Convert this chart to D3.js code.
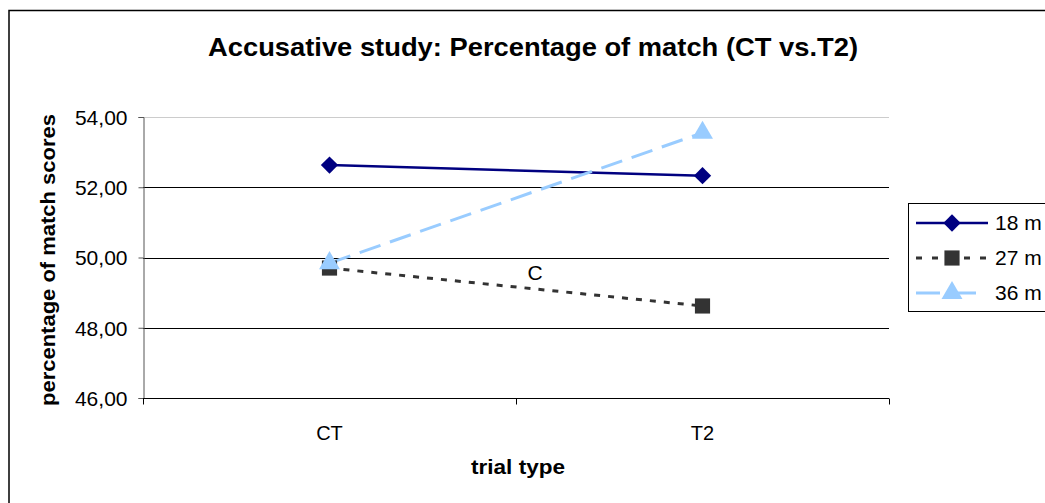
<!DOCTYPE html>
<html>
<head>
<meta charset="utf-8">
<script src="https://cdn.jsdelivr.net/npm/d3@7"></script>
<style>
  body { margin: 0; background: #fff; }
  svg { display: block; font-family: "Liberation Sans", Arial, sans-serif; }
</style>
</head>
<body>
<div class="canvas"></div>
<script>
// chart data
const categories = ["CT", "T2"];
const seriesNames = ["18 m", "27 m", "36 m"];
const values18 = [52.63, 52.33];
const values27 = [49.70, 48.62];
const values36 = [49.84, 53.55];
const yTicks = [46, 48, 50, 52, 54];

const width = 1045;
const height = 503;
// plot area
const margin = { top: 117, right: 156, bottom: 105, left: 143 };
const graphWidth = width - margin.left - margin.right;
const graphHeight = height - margin.top - margin.bottom;

const svg = d3
  .select(".canvas")
  .append("svg")
  .attr("width", width)
  .attr("height", height);

// outer chart frame (runs off the right and bottom edges)
svg.append("rect")
  .attr("x", 9).attr("y", 10.5)
  .attr("width", 1100).attr("height", 600)
  .attr("fill", "none")
  .attr("stroke", "#000")
  .attr("stroke-width", 1.5);

const graph = svg
  .append("g")
  .attr("transform", `translate(${margin.left}, ${margin.top})`);

// scales
const x = d3.scaleBand().domain(categories).range([0, graphWidth]);
const y = d3.scaleLinear().domain([46, 54]).range([graphHeight, 0]);

// gridlines
graph.selectAll(".grid")
  .data(yTicks.filter(d => d !== 46))
  .enter()
  .append("line")
  .attr("x1", 0)
  .attr("x2", graphWidth)
  .attr("y1", d => Math.round(y(d)) + 0.5)
  .attr("y2", d => Math.round(y(d)) + 0.5)
  .attr("stroke", d => (d === 54 ? "#ccc" : "#000"))
  .attr("stroke-width", 1);

// axes
const fmt = d => d3.format(".2f")(d).replace(".", ",");
const yAxis = d3.axisLeft(y).tickValues(yTicks).tickFormat(fmt).tickSizeOuter(0).tickSize(5);
const yAxisGroup = graph.append("g").attr("transform", "translate(0.5,0)").call(yAxis);
yAxisGroup.select(".domain").attr("stroke", "#555");
yAxisGroup.selectAll(".tick line").attr("stroke", "#555");
yAxisGroup.selectAll("text")
  .attr("font-size", 21)
  .attr("fill", "#000")
  .attr("x", -16)
  .attr("dy", "0.35em");

const xAxisGroup = graph.append("g").attr("transform", `translate(0, ${graphHeight + 0.5})`);
xAxisGroup.append("line")
  .attr("x1", 0).attr("x2", graphWidth)
  .attr("stroke", "#000");
// ticks at band boundaries
const boundaries = [0, ...categories.map(c => x(c) + x.bandwidth())];
xAxisGroup.selectAll(".xtick")
  .data(boundaries)
  .enter()
  .append("line")
  .attr("x1", d => Math.round(d) + 0.5)
  .attr("x2", d => Math.round(d) + 0.5)
  .attr("y1", 0)
  .attr("y2", 6)
  .attr("stroke", "#000");
xAxisGroup.selectAll(".xlabel")
  .data(categories)
  .enter()
  .append("text")
  .attr("x", d => x(d) + x.bandwidth() / 2)
  .attr("y", 41)
  .attr("text-anchor", "middle")
  .attr("font-size", 20)
  .text(d => d);

// titles
svg.append("text")
  .attr("x", 533)
  .attr("y", 56)
  .attr("text-anchor", "middle")
  .attr("font-size", 25)
  .attr("font-weight", "bold")
  .attr("textLength", 650)
  .attr("lengthAdjust", "spacingAndGlyphs")
  .text("Accusative study: Percentage of match (CT vs.T2)");

svg.append("text")
  .attr("x", 518)
  .attr("y", 474)
  .attr("text-anchor", "middle")
  .attr("font-size", 20)
  .attr("font-weight", "bold")
  .attr("textLength", 94)
  .attr("lengthAdjust", "spacingAndGlyphs")
  .text("trial type");

svg.append("text")
  .attr("transform", "translate(55, 260) rotate(-90)")
  .attr("text-anchor", "middle")
  .attr("font-size", 20)
  .attr("font-weight", "bold")
  .attr("textLength", 292)
  .attr("lengthAdjust", "spacingAndGlyphs")
  .text("percentage of match scores");

// series styles
const series = [
  { name: seriesNames[0], values: values18, color: "#000080", width: 2.5, dash: null, marker: "diamond", mcolor: "#000080", msize: 150 },
  { name: seriesNames[1], values: values27, color: "#333333", width: 3, dash: "6,8", marker: "square", mcolor: "#333333", msize: 230 },
  { name: seriesNames[2], values: values36, color: "#99ccff", width: 3, dash: "22,10", marker: "triangle", mcolor: "#99ccff", msize: 190 }
];

const symbolType = m => (m === "triangle" ? d3.symbolTriangle : d3.symbolSquare);
const markerTransform = (s, cx, cy) =>
  s.marker === "diamond" ? `translate(${cx}, ${cy}) rotate(45)` : `translate(${cx}, ${cy})`;

const line = d3
  .line()
  .x((d, i) => x(categories[i]) + x.bandwidth() / 2)
  .y(d => y(d));

series.forEach(s => {
  graph.append("path")
    .datum(s.values)
    .attr("fill", "none")
    .attr("stroke", s.color)
    .attr("stroke-width", s.width)
    .attr("stroke-dasharray", s.dash)
    .attr("d", line);
});

series.forEach(s => {
  graph.selectAll(null)
    .data(s.values)
    .enter()
    .append("path")
    .attr("d", d3.symbol().type(symbolType(s.marker)).size(s.msize))
    .attr("transform", (d, i) => markerTransform(s, x(categories[i]) + x.bandwidth() / 2, y(d)))
    .attr("fill", s.mcolor);
});

// annotation
graph.append("text")
  .attr("x", 535 - margin.left)
  .attr("y", 280 - margin.top)
  .attr("text-anchor", "middle")
  .attr("font-size", 21)
  .text("C");

// legend
const legend = svg.append("g").attr("transform", "translate(908, 203)");
legend.append("rect")
  .attr("x", 0.5).attr("y", 0.5)
  .attr("width", 200).attr("height", 108)
  .attr("fill", "#fff")
  .attr("stroke", "#000");

series.forEach((s, i) => {
  const g = legend.append("g").attr("transform", `translate(0, ${20 + i * 35})`);
  g.append("line")
    .attr("x1", 8).attr("x2", 80)
    .attr("stroke", s.color)
    .attr("stroke-width", s.width)
    .attr("stroke-dasharray", s.dash ? (i === 1 ? "6,10" : "24,12") : null);
  g.append("path")
    .attr("d", d3.symbol().type(symbolType(s.marker)).size(s.msize))
    .attr("transform", markerTransform(s, 44, 0))
    .attr("fill", s.mcolor);
  g.append("text")
    .attr("x", 87)
    .attr("y", 0)
    .attr("dy", "0.35em")
    .attr("font-size", 21)
    .text(s.name);
});
</script>
</body>
</html>
